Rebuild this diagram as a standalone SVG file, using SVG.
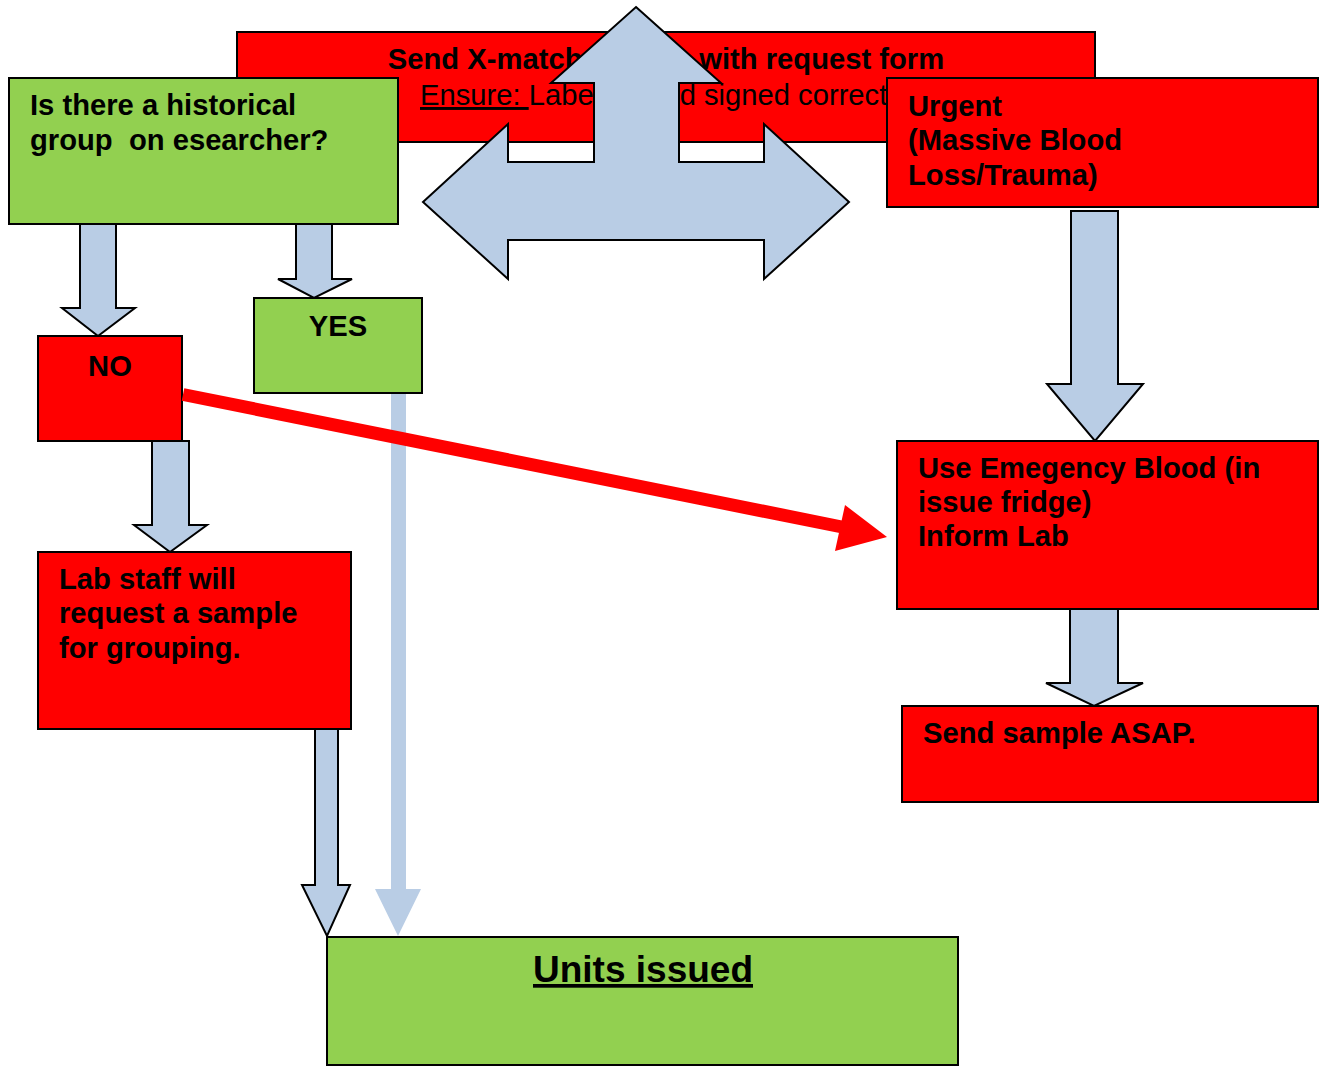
<svg xmlns="http://www.w3.org/2000/svg" width="1319" height="1066" viewBox="0 0 1319 1066">
<style>
.red{fill:#ff0000;stroke:#000;stroke-width:2}
.green{fill:#92d050;stroke:#000;stroke-width:2}
.blk{fill:#b9cde5;stroke:#000;stroke-width:2;stroke-linejoin:miter}
.t{font-family:"Liberation Sans",Arial,sans-serif;font-size:29.2px;font-weight:bold;fill:#000}
.r{font-family:"Liberation Sans",Arial,sans-serif;font-size:29.2px;fill:#000}
</style>
<rect x="0" y="0" width="1319" height="1066" fill="#fff"/>
<g id="node-send-xmatch">
<rect class="red" x="237" y="32" width="858" height="110"/>
<text class="t" x="666" y="69" text-anchor="middle">Send X-match sample with request form</text>
<text class="r" x="420" y="105"><tspan text-decoration="underline">Ensure: </tspan>Labelled and signed correctly</text>
</g>
<g id="connectors">
<path class="blk" d="M636,7 L721,83 L679,83 L679,162 L764,162 L764,124 L849,202 L764,279 L764,240 L508,240 L508,279 L423,202 L508,124 L508,162 L594,162 L594,83 L551,83 Z"/>
<path class="blk" d="M80,224 L116,224 L116,308 L135,308 L98,336 L62,308 L80,308 Z"/>
<path class="blk" d="M296,224 L332,224 L332,279 L352,279 L314,298 L278,279 L296,279 Z"/>
<path class="blk" d="M152,441 L189,441 L189,525 L207,525 L170,552 L134,525 L152,525 Z"/>
<path class="blk" d="M315,729 L338,729 L338,885 L350,885 L327,936 L302,885 L315,885 Z"/>
<path class="blk" d="M1071,211 L1118,211 L1118,384 L1143,384 L1095,441 L1047,384 L1071,384 Z"/>
<path class="blk" d="M1070,609 L1118,609 L1118,683 L1143,683 L1094,706 L1046,683 L1070,683 Z"/>
<path d="M391,393 L406,393 L406,889 L421,889 L398,936 L375,889 L391,889 Z" fill="#b9cde5"/>
</g>
<g id="node-historical">
<rect class="green" x="9" y="78" width="389" height="146"/>
<text class="t" x="30" y="115" xml:space="preserve">Is there a historical</text>
<text class="t" x="30" y="150" xml:space="preserve">group  on esearcher?</text>
</g>
<g id="node-urgent">
<rect class="red" x="887" y="78" width="431" height="129"/>
<text class="t" x="908" y="116">Urgent</text>
<text class="t" x="908" y="150">(Massive Blood</text>
<text class="t" x="908" y="185">Loss/Trauma)</text>
</g>
<g id="node-no">
<rect class="red" x="38" y="336" width="144" height="105"/>
<text class="t" x="110" y="376" text-anchor="middle">NO</text>
</g>
<g id="node-yes">
<rect class="green" x="254" y="298" width="168" height="95"/>
<text class="t" x="338" y="336" text-anchor="middle">YES</text>
</g>
<g id="node-lab-staff">
<rect class="red" x="38" y="552" width="313" height="177"/>
<text class="t" x="59" y="589">Lab staff will</text>
<text class="t" x="59" y="623">request a sample</text>
<text class="t" x="59" y="658">for grouping.</text>
</g>
<g id="node-emergency">
<rect class="red" x="897" y="441" width="421" height="168"/>
<text class="t" x="918" y="478">Use Emegency Blood (in</text>
<text class="t" x="918" y="512">issue fridge)</text>
<text class="t" x="918" y="546">Inform Lab</text>
</g>
<g id="node-send-sample">
<rect class="red" x="902" y="706" width="416" height="96"/>
<text class="t" x="923" y="743">Send sample ASAP.</text>
</g>
<g id="node-units">
<rect class="green" x="327" y="937" width="631" height="128"/>
<text class="t" x="643" y="982" text-anchor="middle" text-decoration="underline" style="font-size:37px">Units issued</text>
</g>
<g id="connector-red">
<line x1="183" y1="394.5" x2="842" y2="527" stroke="#ff0000" stroke-width="13"/>
<polygon points="845,505 887,537 835,551" fill="#ff0000"/>
</g>
</svg>
